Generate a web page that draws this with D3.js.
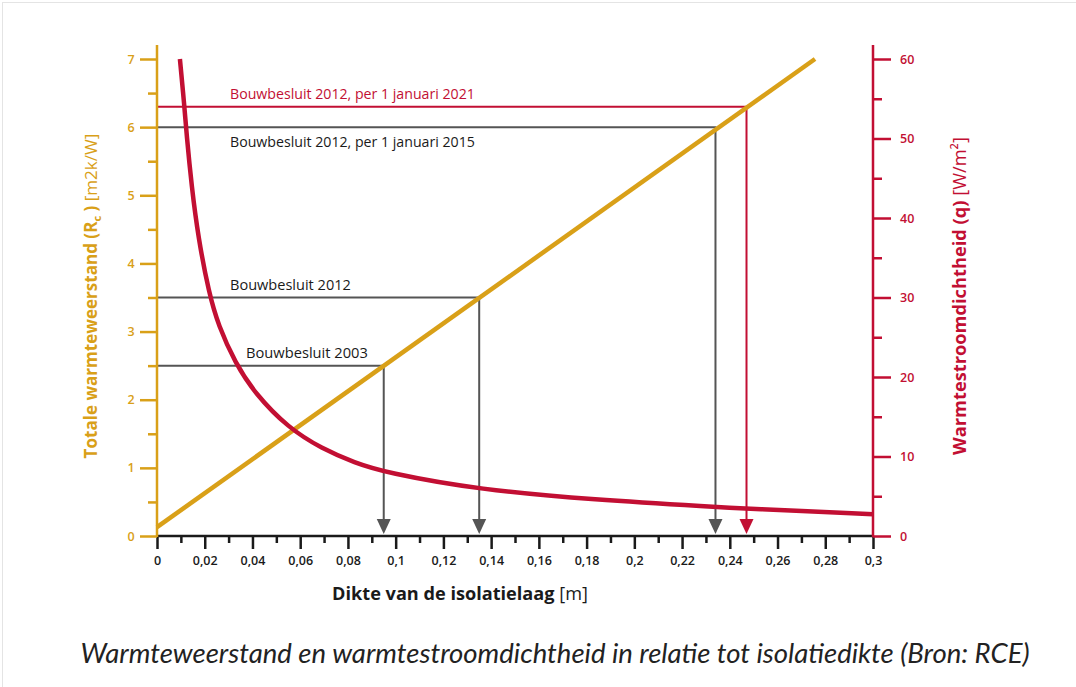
<!DOCTYPE html>
<html><head><meta charset="utf-8">
<script src="https://cdn.jsdelivr.net/npm/d3@7/dist/d3.min.js"></script>
<style>html,body{margin:0;padding:0;background:#fff;}svg{display:block;font-family:"Open Sans",Lato,sans-serif;}</style>
</head><body>
<svg id="c" width="1076" height="687"></svg>
<script>
// ---- data ----
const xTicks = [0,0.02,0.04,0.06,0.08,0.1,0.12,0.14,0.16,0.18,0.2,0.22,0.24,0.26,0.28,0.3];
const xTickLabels = ["0","0,02","0,04","0,06","0,08","0,1","0,12","0,14","0,16","0,18","0,2","0,22","0,24","0,26","0,28","0,3"];
const xMinor = [0.01,0.03,0.05,0.07,0.09,0.11,0.13,0.15,0.17,0.19,0.21,0.23,0.25,0.27,0.29];
const yLeftTicks = [0,1,2,3,4,5,6,7];
const yLeftLabels = ["0","1","2","3","4","5","6","7"];
const yLeftMinor = [0.5,1.5,2.5,3.5,4.5,5.5,6.5];
const yRightTicks = [0,10,20,30,40,50,60];
const yRightLabels = ["0","10","20","30","40","50","60"];
const yRightMinor = [5,15,25,35,45,55];
// Rc line (yellow) endpoints
const rcDikte = [0, 0.2757];
const rcValue = [0.13, 7.0];
// heat flux curve (red)
const qDikte = [0.0096,0.0115,0.0124,0.0145,0.0173,0.0218,0.0257,0.0327,0.0411,0.055,0.069,0.083,0.0954,0.1354,0.1831,0.234,0.2463,0.3];
const qValue = [60,54,50.5,44,37.5,30.5,26.5,21.8,17.9,13.6,11.0,9.2,8.0,5.8,4.55,3.65,3.45,2.75];
// Bouwbesluit requirements
const reqLabels = ["Bouwbesluit 2003","Bouwbesluit 2012","Bouwbesluit 2012, per 1 januari 2015","Bouwbesluit 2012, per 1 januari 2021"];
const reqRc = [2.5, 3.5, 6.0, 6.3];
const reqDikte = [0.095, 0.135, 0.234, 0.247];

// ---- styles ----
const YEL = "#d9a018", RED = "#c20f33", GRAY = "#555555", BLK = "#1a1a1a";

const svg = d3.select("#c");
svg.append("rect").attr("x",2.5).attr("y",2.5).attr("width",1080).attr("height",700)
  .attr("fill","none").attr("stroke","#e4e4e4");

const x = d3.scaleLinear([0,0.3],[157,873]);
const yL = d3.scaleLinear([0,7],[536,59]);
const yR = d3.scaleLinear([0,60],[536,59]);

function fit(sel, target, base){
  const w = sel.node().getComputedTextLength();
  sel.attr("font-size", base*target/w);
}

// requirement lines
const reqColor = i => i===3 ? RED : GRAY;
reqLabels.forEach((lab,i)=>{
  const c = reqColor(i);
  const px = x(reqDikte[i]), py = yL(reqRc[i]);
  svg.append("path").attr("d",`M${x(0)},${py}H${px}V${yL(0)-16}`)
    .attr("fill","none").attr("stroke",c).attr("stroke-width",2);
  svg.append("path").attr("d",`M${px-7},${yL(0)-17}L${px+7},${yL(0)-17}L${px},${yL(0)-2}Z`).attr("fill",c);
  const below = i===2;
  const lx = i===0 ? 246 : 230;
  const t = svg.append("text").attr("x",lx).attr("y", below ? py+20 : py-8)
    .attr("font-size",13).attr("fill", i===3?RED:BLK).text(lab);
  const targets = [122,121,245,245];
  fit(t, targets[i], 13);
});

// Rc line
const rcPts = rcDikte.map((d,i)=>[d,rcValue[i]]);
svg.append("path").datum(rcPts)
  .attr("d", d3.line().x(d=>x(d[0])).y(d=>yL(d[1])))
  .attr("stroke",YEL).attr("stroke-width",4.5).attr("fill","none");

// q curve
const qPts = qDikte.map((d,i)=>[d,qValue[i]]);
svg.append("path").datum(qPts)
  .attr("d", d3.line().x(d=>x(d[0])).y(d=>yR(d[1])).curve(d3.curveBasis))
  .attr("stroke",RED).attr("stroke-width",4.5).attr("fill","none");

// ---- axes ----
function styleAxis(g,color){
  g.selectAll(".domain").remove();
  g.selectAll("line").attr("stroke",color).attr("stroke-width",2.5);
  g.selectAll("text").attr("fill",color).attr("font-size",12.5).attr("font-weight",600)
    .attr("font-family","'Open Sans',sans-serif");
}
// X
const gxMinor = svg.append("g").attr("transform",`translate(0,${yL(0)})`)
  .call(d3.axisBottom(x).tickValues(xMinor).tickSize(7).tickFormat(""));
styleAxis(gxMinor,BLK);
const gx = svg.append("g").attr("transform",`translate(0,${yL(0)})`)
  .call(d3.axisBottom(x).tickValues(xTicks).tickSize(13).tickPadding(7).tickFormat((d,i)=>xTickLabels[i]));
styleAxis(gx,BLK);
svg.append("line").attr("x1",x(0)).attr("x2",x(0.3)).attr("y1",yL(0)).attr("y2",yL(0))
  .attr("stroke",BLK).attr("stroke-width",2.5);

// left
const glMinor = svg.append("g").attr("transform",`translate(${x(0)},0)`)
  .call(d3.axisLeft(yL).tickValues(yLeftMinor).tickSize(9).tickFormat(""));
styleAxis(glMinor,YEL);
const gl = svg.append("g").attr("transform",`translate(${x(0)},0)`)
  .call(d3.axisLeft(yL).tickValues(yLeftTicks).tickSize(17).tickPadding(18).tickFormat((d,i)=>yLeftLabels[i]));
styleAxis(gl,YEL);
gl.selectAll("text").attr("text-anchor","middle").attr("dx",0);
gl.selectAll(".tick text").attr("x",-26);
svg.append("line").attr("x1",x(0)).attr("x2",x(0)).attr("y1",yL(0)+1).attr("y2",yL(7)-14)
  .attr("stroke",YEL).attr("stroke-width",2.5);

// right
const grMinor = svg.append("g").attr("transform",`translate(${x(0.3)},0)`)
  .call(d3.axisRight(yR).tickValues(yRightMinor).tickSize(9).tickFormat(""));
styleAxis(grMinor,RED);
const gr = svg.append("g").attr("transform",`translate(${x(0.3)},0)`)
  .call(d3.axisRight(yR).tickValues(yRightTicks).tickSize(18).tickPadding(9).tickFormat((d,i)=>yRightLabels[i]));
styleAxis(gr,RED);
svg.append("line").attr("x1",x(0.3)).attr("x2",x(0.3)).attr("y1",yL(0)+1).attr("y2",yL(7)-14)
  .attr("stroke",RED).attr("stroke-width",2.5);

// ---- titles ----
const xt = svg.append("text").attr("x",460).attr("y",600).attr("text-anchor","middle")
  .attr("font-size",17).attr("fill",BLK);
xt.append("tspan").attr("font-weight",700).text("Dikte van de isolatielaag");
xt.append("tspan").attr("font-weight",400).text(" [m]");
fit(xt,256,17);

const lt = svg.append("text").attr("transform","translate(97,296) rotate(-90)")
  .attr("text-anchor","middle").attr("font-size",17).attr("fill",YEL);
lt.append("tspan").attr("font-weight",700).text("Totale warmteweerstand (R");
lt.append("tspan").attr("font-weight",700).attr("font-size","0.65em").attr("dy",4).text("c");
lt.append("tspan").attr("font-weight",700).attr("dy",-4).text(" )");
lt.append("tspan").attr("font-weight",400).text(" [m2k/W]");
fit(lt,325,17);

const rt = svg.append("text").attr("transform","translate(966,296) rotate(-90)")
  .attr("text-anchor","middle").attr("font-size",17).attr("fill",RED);
rt.append("tspan").attr("font-weight",700).text("Warmtestroomdichtheid (q)");
rt.append("tspan").attr("font-weight",400).text(" [W/m²]");
fit(rt,318,17);

// caption
const cap = svg.append("text").attr("x",555).attr("y",663).attr("text-anchor","middle")
  .attr("font-size",22).attr("font-style","italic").attr("fill","#222")
  .attr("font-family","Lato,sans-serif")
  .text("Warmteweerstand en warmtestroomdichtheid in relatie tot isolatiedikte (Bron: RCE)");
fit(cap,950,22);
</script>
</body></html>
